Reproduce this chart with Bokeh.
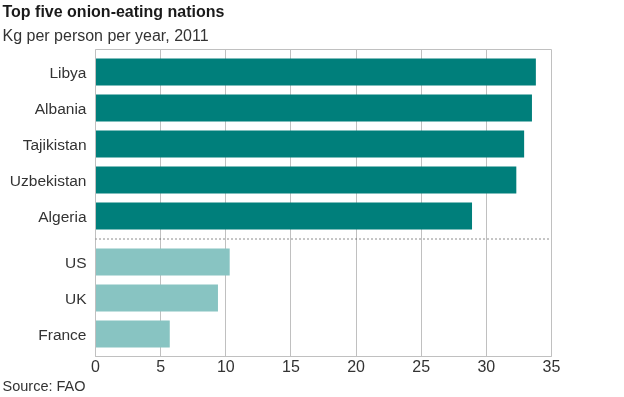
from bokeh.plotting import figure
from bokeh.models import Range1d, FixedTicker, Title, Span, ColumnDataSource
from bokeh.embed import file_html
from bokeh.resources import INLINE

# ---- data ----
top_countries = ["Libya", "Albania", "Tajikistan", "Uzbekistan", "Algeria"]
top_values = [33.8, 33.5, 32.9, 32.3, 28.9]
other_countries = ["US", "UK", "France"]
other_values = [10.3, 9.4, 5.7]
x_ticks = [0, 5, 10, 15, 20, 25, 30, 35]

title_text = "Top five onion-eating nations"
subtitle_text = "Kg per person per year, 2011"
source_text = "Source: FAO"

# ---- layout ----
pitch = 36
gap = 10
bar_h = 27
top_pos = [i * pitch for i in range(len(top_countries))]
other_start = top_pos[-1] + pitch + gap
other_pos = [other_start + i * pitch for i in range(len(other_countries))]
sep_pos = (top_pos[-1] + other_pos[0]) / 2
pad = 22.5

DARK = "#007f7b"
LIGHT = "#88c4c2"
GRID = "#c0c0c0"
TXT = "#333333"
FONT = "Liberation Sans"

W, H = 624, 397
ML, MR, MT, MB = 95, 73, 49, 41
XMAX = 35

y_top = top_pos[0] - pad
y_bot = other_pos[-1] + pad

p = figure(width=W, height=H, output_backend="svg", toolbar_location=None,
           title=None,
           x_range=Range1d(0, XMAX),
           y_range=Range1d(y_bot, y_top),
           min_border_left=ML, min_border_right=MR,
           min_border_top=MT, min_border_bottom=MB)
p.styles = {"position": "fixed", "left": "0px", "top": "0px"}

src_top = ColumnDataSource(dict(y=top_pos, v=top_values))
src_oth = ColumnDataSource(dict(y=other_pos, v=other_values))
p.hbar(y="y", right="v", left=0, height=bar_h, source=src_top,
       fill_color=DARK, line_color=None)
p.hbar(y="y", right="v", left=0, height=bar_h, source=src_oth,
       fill_color=LIGHT, line_color=None)

p.add_layout(Span(location=sep_pos, dimension="width", line_color="#1a1a1a",
                  line_width=1, line_dash="1 3"))

p.outline_line_color = GRID
p.outline_line_width = 1
p.background_fill_color = "white"
p.border_fill_color = "white"

p.xgrid.ticker = FixedTicker(ticks=x_ticks)
p.xgrid.grid_line_color = GRID
p.ygrid.grid_line_color = None

xa = p.xaxis[0]
xa.ticker = FixedTicker(ticks=x_ticks)
xa.axis_line_color = GRID
xa.major_tick_line_color = None
xa.minor_tick_line_color = None
xa.major_tick_out = 0
xa.major_tick_in = 0
xa.minor_tick_out = 0
xa.major_label_text_font = FONT
xa.major_label_text_font_size = "16px"
xa.major_label_text_color = TXT
xa.major_label_standoff = 3

ya = p.yaxis[0]
all_pos = top_pos + other_pos
all_names = top_countries + other_countries
ya.ticker = FixedTicker(ticks=all_pos)
ya.major_label_overrides = {pos: name for pos, name in zip(all_pos, all_names)}
ya.axis_line_color = GRID
ya.major_tick_line_color = None
ya.minor_tick_line_color = None
ya.major_tick_out = 0
ya.major_tick_in = 0
ya.minor_tick_out = 0
ya.major_label_text_font = FONT
ya.major_label_text_font_size = "15.5px"
ya.major_label_text_color = TXT
ya.major_label_standoff = 9

def make_title(txt, size, standoff, bold=False, color=TXT):
    return Title(text=txt, align="left", offset=2 - ML, standoff=standoff,
                 text_font=FONT, text_font_size=size,
                 text_font_style="bold" if bold else "normal",
                 text_color=color)

p.add_layout(make_title(subtitle_text, "16px", 11), "above")
p.add_layout(make_title(title_text, "16px", 0, bold=True, color="#1a1a1a"), "above")
p.add_layout(make_title(source_text, "14.5px", 2), "below")

open("out.html", "w").write(file_html(p, INLINE))
